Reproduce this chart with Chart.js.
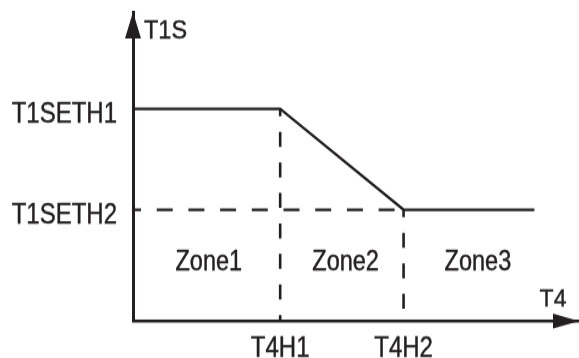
<!DOCTYPE html>
<html>
<head>
<meta charset="utf-8">
<script src="https://cdn.jsdelivr.net/npm/chart.js@4/dist/chart.umd.min.js"></script>
<style>
  body { margin: 0; background: #fff; }
  /* the source drawing is stretched vertically, so the canvas is too */
  #myChart { display: block; width: 579px; height: 358px; }
</style>
</head>
<body>
<canvas id="myChart" width="579" height="298" style="width:579px;height:358px"></canvas>
<script>
// values
const xTickValues = [9.9, 18.2]
const xTickLabels = ['T4H1', 'T4H2']
const yTickValues = [10.8, 20.6]
const yTickLabels = ['T1SETH2', 'T1SETH1']
const curveX = [0, 9.9, 18.2, 27]
const curveY = [20.6, 20.6, 10.8, 10.8]
const zoneNames = ['Zone1', 'Zone2', 'Zone3']
const zoneX = [5.1, 14.3, 23.2]
const zoneY = [5.7, 5.7, 5.7]
const xMax = 30
const yMax = 30

const ink = '#231f20'
const font = '"Liberation Sans", Arial, sans-serif'

const pts = (xs, ys) => xs.map((x, i) => ({x: x, y: ys[i]}))
const line = (data, width, dash) => ({
  data: data,
  borderColor: ink,
  borderWidth: width,
  borderDash: dash || [],
  borderDashOffset: dash ? dash[0] / 2 : 0,
  pointRadius: 0,
  showLine: true,
  clip: false
})
const noPad = (s) => { s.paddingTop = 0; s.paddingBottom = 0; s.paddingLeft = 0; s.paddingRight = 0 }

const decor = {
  id: 'decor',
  afterDraw(chart) {
    const ctx = chart.ctx
    const xs = chart.scales.x, ys = chart.scales.y
    const ox = xs.getPixelForValue(0), oy = ys.getPixelForValue(0)
    const top = ys.getPixelForValue(yMax), right = xs.getPixelForValue(xMax)
    const text = (t, x, y) => { ctx.strokeText(t, x, y); ctx.fillText(t, x, y) }
    ctx.save()
    ctx.fillStyle = ink
    ctx.strokeStyle = ink
    ctx.lineWidth = 0.4
    // arrow heads
    ctx.beginPath()
    ctx.moveTo(ox, top)
    ctx.lineTo(ox - 8, top + 22)
    ctx.lineTo(ox + 8, top + 22)
    ctx.closePath()
    ctx.fill()
    ctx.beginPath()
    ctx.moveTo(right, oy)
    ctx.lineTo(right - 26, oy - 6.3)
    ctx.lineTo(right - 26, oy + 6.3)
    ctx.closePath()
    ctx.fill()
    ctx.textBaseline = 'middle'
    // zone labels
    ctx.textAlign = 'center'
    ctx.font = '23.5px ' + font
    zoneNames.forEach((z, i) => {
      text(z, xs.getPixelForValue(zoneX[i]), ys.getPixelForValue(zoneY[i]))
    })
    // axis names, a little less stretched
    ctx.save()
    ctx.scale(1, 0.93)
    ctx.textAlign = 'left'
    text('T1S', ox + 11, (top + 16) / 0.93)
    ctx.restore()
    ctx.font = '23px ' + font
    ctx.save()
    ctx.scale(1, 0.86)
    ctx.textAlign = 'center'
    text('T4', right - 26, (oy - 17.5) / 0.86)
    ctx.restore()
    ctx.restore()
  }
}

new Chart(document.getElementById('myChart'), {
  type: 'scatter',
  data: {
    datasets: [
      line([{x: xTickValues[0], y: yTickValues[1]}, {x: xTickValues[0], y: 0}], 2.6, [12.5, 12.9]),
      line([{x: 0, y: yTickValues[0]}, {x: xTickValues[1], y: yTickValues[0]}], 2.2, [16, 15.7]),
      line([{x: xTickValues[1], y: yTickValues[0]}, {x: xTickValues[1], y: 0}], 2.6, [12.5, 12.9]),
      line(pts(curveX, curveY), 2.4)
    ]
  },
  options: {
    responsive: false,
    animation: false,
    devicePixelRatio: 1,
    layout: { padding: { top: 10, right: 0, left: 0, bottom: 0 } },
    plugins: { legend: { display: false }, tooltip: { enabled: false } },
    scales: {
      x: {
        type: 'linear',
        min: 0,
        max: xMax,
        grid: { display: false, drawTicks: false },
        border: { display: true, color: ink, width: 2.5 },
        afterBuildTicks: (s) => { s.ticks = xTickValues.map(v => ({value: v})) },
        afterFit: (s) => { s.height = 30.8; noPad(s) },
        ticks: {
          autoSkip: false,
          maxRotation: 0,
          padding: 9,
          color: ink,
          textStrokeColor: ink,
          textStrokeWidth: 0.4,
          font: { family: font, size: 24 },
          callback: (v) => xTickLabels[xTickValues.indexOf(v)]
        }
      },
      y: {
        type: 'linear',
        min: 0,
        max: yMax,
        grid: { display: false, drawTicks: false },
        border: { display: true, color: ink, width: 3 },
        afterBuildTicks: (s) => { s.ticks = yTickValues.map(v => ({value: v})) },
        afterFit: (s) => { s.width = 133; noPad(s) },
        ticks: {
          autoSkip: false,
          padding: 16,
          labelOffset: 4.5,
          color: ink,
          textStrokeColor: ink,
          textStrokeWidth: 0.4,
          font: { family: font, size: 24 },
          callback: (v) => yTickLabels[yTickValues.indexOf(v)]
        }
      }
    }
  },
  plugins: [decor]
})
</script>
</body>
</html>
